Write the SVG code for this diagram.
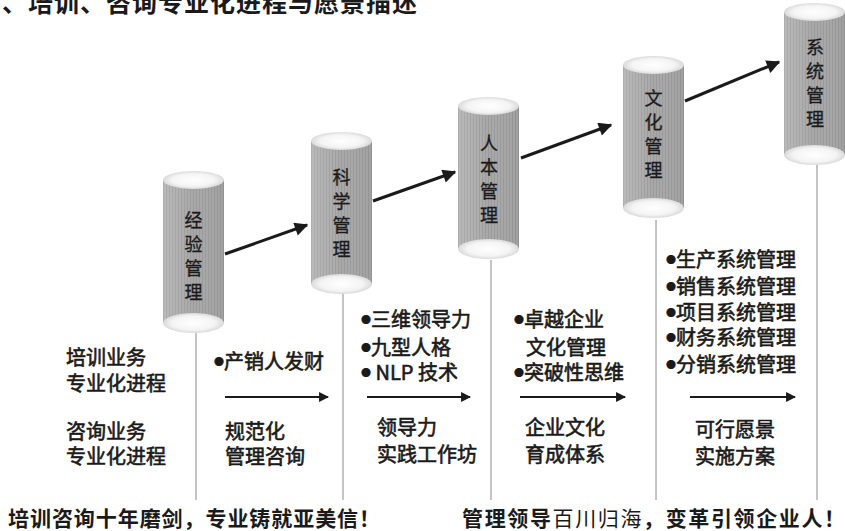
<svg xmlns="http://www.w3.org/2000/svg" width="845" height="531" viewBox="0 0 845 531">
  <style>
    .title { font-family: "Noto Sans CJK SC", "Liberation Serif", serif; font-weight: bold; font-size: 25px; fill: #1a1a1a; }
    .cyl-label { font-family: "Noto Sans CJK SC", "Liberation Sans", sans-serif; font-size: 18px; fill: #1a1a1a; text-anchor: middle; stroke: #1a1a1a; stroke-width: 0.3; }
    .body-text { font-family: "Noto Sans CJK SC", "Liberation Sans", sans-serif; font-size: 20px; fill: #1a1a1a; stroke: #1a1a1a; stroke-width: 0.6; }
    .dot { font-size: 10px; stroke-width: 0.2; }
    .motto { font-family: "Noto Sans CJK SC", "Liberation Sans", sans-serif; font-size: 21px; font-weight: bold; fill: #1a1a1a; }
    .light { font-weight: normal; }
    .divider { stroke: #8a8a8a; stroke-width: 1; fill: none; }
    .step { stroke: #1a1a1a; stroke-width: 3; fill: none; marker-end: url(#bigHead); }
    .flow { stroke: #1a1a1a; stroke-width: 2.2; fill: none; marker-end: url(#smallHead); }
  </style>
  <defs>
    <!-- fine vertical grain of the cylinder barrels -->
    <pattern id="grain" width="3" height="6" patternUnits="userSpaceOnUse">
      <rect width="3" height="6" fill="#a8a8a8"/>
      <rect width="1" height="6" fill="#9a9a9a"/>
    </pattern>
    <linearGradient id="shade" x1="0" y1="0" x2="1" y2="0">
      <stop offset="0" stop-color="#ffffff" stop-opacity="0.2"/>
      <stop offset="0.5" stop-color="#ffffff" stop-opacity="0"/>
      <stop offset="1" stop-color="#000000" stop-opacity="0.05"/>
    </linearGradient>
    <radialGradient id="cap" cx="0.5" cy="0.5" r="0.5">
      <stop offset="0" stop-color="#ffffff"/>
      <stop offset="0.7" stop-color="#f4f4f4"/>
      <stop offset="1" stop-color="#dadada"/>
    </radialGradient>
    <filter id="soft" x="-10%" y="-10%" width="120%" height="120%">
      <feGaussianBlur stdDeviation="0.7"/>
    </filter>
    <marker id="bigHead" viewBox="0 0 10 10" refX="9" refY="5" markerWidth="5" markerHeight="4.5" orient="auto" markerUnits="strokeWidth">
      <path d="M0,0 L10,5 L0,10 Z" fill="#1a1a1a"/>
    </marker>
    <marker id="smallHead" viewBox="0 0 10 10" refX="9" refY="5" markerWidth="5" markerHeight="4.5" orient="auto" markerUnits="strokeWidth">
      <path d="M0,0 L10,5 L0,10 Z" fill="#1a1a1a"/>
    </marker>
    <!-- one cylinder, origin at top-left of the barrel (61 wide, 143 tall) -->
    <g id="cylinder">
      <g filter="url(#soft)">
        <rect x="0" y="0" width="61" height="143" fill="url(#grain)"/>
        <rect x="0" y="0" width="61" height="143" fill="url(#shade)"/>
        <ellipse cx="30.5" cy="0" rx="30.5" ry="9" fill="url(#cap)"/>
        <ellipse cx="30.5" cy="143" rx="30.5" ry="10" fill="url(#cap)"/>
      </g>
    </g>
  </defs>

  <rect width="845" height="531" fill="#ffffff"/>

  <text class="title" x="2" y="12" letter-spacing="1">、培训、咨询专业化进程与愿景描述</text>

  <!-- dividers dropping from each cylinder -->
  <g id="dividers">
    <line class="divider" x1="196" y1="333" x2="196" y2="500"/>
    <line class="divider" x1="343" y1="293" x2="343" y2="500"/>
    <line class="divider" x1="491" y1="260" x2="491" y2="500"/>
    <line class="divider" x1="656" y1="220" x2="656" y2="500"/>
    <line class="divider" x1="817" y1="163" x2="817" y2="500"/>
  </g>

  <!-- stage cylinders -->
  <g id="stage-experience">
    <use href="#cylinder" x="163" y="180"/>
    <text class="cyl-label" x="193.5"><tspan x="193.5" y="227">经</tspan><tspan x="193.5" y="251">验</tspan><tspan x="193.5" y="275">管</tspan><tspan x="193.5" y="299">理</tspan></text>
  </g>
  <g id="stage-science">
    <use href="#cylinder" x="311" y="141"/>
    <text class="cyl-label" x="341.5"><tspan x="341.5" y="184">科</tspan><tspan x="341.5" y="208">学</tspan><tspan x="341.5" y="232">管</tspan><tspan x="341.5" y="256">理</tspan></text>
  </g>
  <g id="stage-people">
    <use href="#cylinder" x="458" y="106"/>
    <text class="cyl-label" x="489"><tspan x="489" y="150">人</tspan><tspan x="489" y="174">本</tspan><tspan x="489" y="198">管</tspan><tspan x="489" y="222">理</tspan></text>
  </g>
  <g id="stage-culture">
    <use href="#cylinder" x="623" y="65"/>
    <text class="cyl-label" x="653.5"><tspan x="653.5" y="105">文</tspan><tspan x="653.5" y="129">化</tspan><tspan x="653.5" y="153">管</tspan><tspan x="653.5" y="177">理</tspan></text>
  </g>
  <g id="stage-system">
    <use href="#cylinder" x="784" y="12"/>
    <text class="cyl-label" x="815"><tspan x="815" y="54">系</tspan><tspan x="815" y="78">统</tspan><tspan x="815" y="102">管</tspan><tspan x="815" y="126">理</tspan></text>
  </g>

  <!-- rising arrows linking the stages -->
  <g id="connectors">
    <line class="step" x1="225" y1="254" x2="307" y2="225"/>
    <line class="step" x1="373" y1="201" x2="455" y2="172"/>
    <line class="step" x1="521" y1="158" x2="611" y2="125"/>
    <line class="step" x1="685" y1="101" x2="779" y2="62"/>
  </g>

  <!-- left legend -->
  <g id="legend">
    <text class="body-text" x="66" y="365">培训业务</text>
    <text class="body-text" x="66" y="391">专业化进程</text>
    <text class="body-text" x="66" y="439">咨询业务</text>
    <text class="body-text" x="66" y="464">专业化进程</text>
  </g>

  <!-- column: experience → science -->
  <g id="col-1">
    <text class="body-text" x="214" y="369"><tspan class="dot" dy="-3">●</tspan><tspan dy="3">产销人发财</tspan></text>
    <line class="flow" x1="225" y1="397" x2="328" y2="397"/>
    <text class="body-text" x="225" y="439">规范化</text>
    <text class="body-text" x="225" y="464">管理咨询</text>
  </g>

  <!-- column: science → people -->
  <g id="col-2">
    <text class="body-text" x="361" y="327"><tspan class="dot" dy="-3">●</tspan><tspan dy="3">三维领导力</tspan></text>
    <text class="body-text" x="361" y="355"><tspan class="dot" dy="-3">●</tspan><tspan dy="3">九型人格</tspan></text>
    <text class="body-text" x="361" y="380"><tspan class="dot" dy="-3">●</tspan><tspan dy="3"> NLP 技术</tspan></text>
    <line class="flow" x1="367" y1="397" x2="470" y2="397"/>
    <text class="body-text" x="377" y="435">领导力</text>
    <text class="body-text" x="377" y="462">实践工作坊</text>
  </g>

  <!-- column: people → culture -->
  <g id="col-3">
    <text class="body-text" x="514" y="327"><tspan class="dot" dy="-3">●</tspan><tspan dy="3">卓越企业</tspan></text>
    <text class="body-text" x="526" y="355">文化管理</text>
    <text class="body-text" x="514" y="380"><tspan class="dot" dy="-3">●</tspan><tspan dy="3">突破性思维</tspan></text>
    <line class="flow" x1="520" y1="397" x2="625" y2="397"/>
    <text class="body-text" x="525" y="435">企业文化</text>
    <text class="body-text" x="525" y="462">育成体系</text>
  </g>

  <!-- column: culture → system -->
  <g id="col-4">
    <text class="body-text" x="666" y="267"><tspan class="dot" dy="-3">●</tspan><tspan dy="3">生产系统管理</tspan></text>
    <text class="body-text" x="666" y="294"><tspan class="dot" dy="-3">●</tspan><tspan dy="3">销售系统管理</tspan></text>
    <text class="body-text" x="666" y="320"><tspan class="dot" dy="-3">●</tspan><tspan dy="3">项目系统管理</tspan></text>
    <text class="body-text" x="666" y="345"><tspan class="dot" dy="-3">●</tspan><tspan dy="3">财务系统管理</tspan></text>
    <text class="body-text" x="666" y="372"><tspan class="dot" dy="-3">●</tspan><tspan dy="3">分销系统管理</tspan></text>
    <line class="flow" x1="690" y1="397" x2="795" y2="397"/>
    <text class="body-text" x="695" y="437">可行愿景</text>
    <text class="body-text" x="695" y="464">实施方案</text>
  </g>

  <!-- slogans -->
  <g id="slogans">
    <text class="motto" x="8" y="526" textLength="372" lengthAdjust="spacing">培训咨询十年磨剑，专业铸就亚美信！</text>
    <text class="motto" x="462" y="526" textLength="383" lengthAdjust="spacing">管理领导<tspan class="light">百川归海</tspan>，变革引领企业人！</text>
  </g>
</svg>
